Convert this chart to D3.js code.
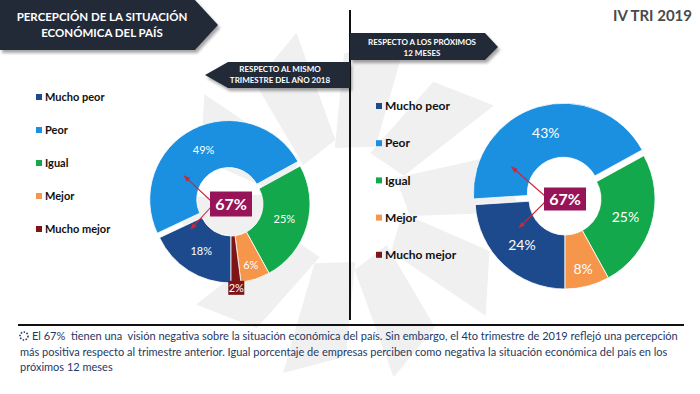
<!DOCTYPE html>
<html>
<head>
<meta charset="utf-8">
<script src="https://cdn.jsdelivr.net/npm/d3@7"></script>
<style>
body { margin: 0; background: #fff; }
svg { display: block; font-family: Lato, "Open Sans", sans-serif; }
</style>
</head>
<body>
<script>
// datos
var categories = ["Mucho peor", "Peor", "Igual", "Mejor", "Mucho mejor"];
var valuesAnio = [18, 49, 25, 6, 2];   // respecto al mismo trimestre 2018
var valuesProx = [24, 43, 25, 8, 0];   // respecto a los proximos 12 meses
var negativeAnio = 67;
var negativeProx = 67;
var colors = ["#1d4a8c", "#1b8fe0", "#12a84b", "#f5964a", "#7f1417"];

var titleLines = ["PERCEPCIÓN DE LA SITUACIÓN", "ECONÓMICA DEL PAÍS"];
var subAnio = ["RESPECTO AL MISMO", "TRIMESTRE DEL AÑO 2018"];
var subProx = ["RESPECTO A LOS PRÓXIMOS", "12 MESES"];
var period = "IV TRI 2019";
var noteLines = [
    "El 67%  tienen una  visión negativa sobre la situación económica del país. Sin embargo, el 4to trimestre de 2019 reflejó una percepción",
    "más positiva respecto al trimestre anterior. Igual porcentaje de empresas perciben como negativa la situación económica del país en los",
    "próximos 12 meses"
];

var width = 700, height = 394;

var svg = d3.select("body").append("svg")
    .attr("width", width)
    .attr("height", height);

var defs = svg.append("defs");
defs.append("filter").attr("id", "shadow")
    .attr("x", -0.1).attr("y", -0.2).attr("width", 1.2).attr("height", 1.6)
  .append("feDropShadow")
    .attr("dx", 2).attr("dy", 3).attr("stdDeviation", 1.5)
    .attr("flood-color", "#000").attr("flood-opacity", 0.35);
defs.append("marker").attr("id", "arrow")
    .attr("viewBox", "0 0 10 10").attr("refX", 9).attr("refY", 5)
    .attr("markerWidth", 6).attr("markerHeight", 6).attr("orient", "auto")
  .append("path").attr("d", "M0,1L10,5L0,9z").attr("fill", "#c8283a");

// marca de agua (logo tenue)
var wm = svg.append("g").attr("transform", "translate(345,205)");
d3.range(10).forEach(function(i) {
    wm.append("path")
        .attr("d", "M-18,-55L22,-62L38,-175L-22,-150Z")
        .attr("transform", "rotate(" + (i * 36 + 8) + ")")
        .attr("fill", "#f0f0f0");
});

// lineas divisorias
svg.append("line").attr("x1", 350).attr("x2", 350).attr("y1", 10).attr("y2", 320)
    .attr("stroke", "#111").attr("stroke-width", 2);
svg.append("line").attr("x1", 18).attr("x2", 684).attr("y1", 325).attr("y2", 325)
    .attr("stroke", "#111").attr("stroke-width", 2);

// banners
function banner(points, lines, cx, y0, dy, size) {
    var g = svg.append("g");
    g.append("polygon")
        .attr("points", points.map(function(p) { return p.join(","); }).join(" "))
        .attr("fill", "#242b37")
        .attr("filter", "url(#shadow)");
    lines.forEach(function(t, i) {
        g.append("text")
            .attr("x", cx).attr("y", y0 + i * dy)
            .attr("text-anchor", "middle")
            .attr("fill", "#fff")
            .attr("font-weight", "bold")
            .attr("font-size", size)
            .text(t);
    });
}
banner([[0, 0], [195, 0], [218, 25], [195, 50], [0, 50]], titleLines, 102, 21, 16, 11.5);
banner([[228, 62], [350, 62], [350, 88], [228, 88], [205, 75]], subAnio, 280, 72, 11, 8);
banner([[350, 33], [485, 33], [498, 47], [485, 60], [350, 60]], subProx, 422, 45, 11, 8);

svg.append("text")
    .attr("x", 692).attr("y", 21)
    .attr("text-anchor", "end")
    .attr("font-weight", "bold")
    .attr("font-size", 15)
    .attr("fill", "#4a4a4a")
    .text(period);

// leyendas
function legend(x, y0, step, size, box) {
    var g = svg.append("g").attr("transform", "translate(" + x + "," + y0 + ")");
    categories.forEach(function(c, i) {
        var row = g.append("g").attr("transform", "translate(0," + (i * step) + ")");
        row.append("rect")
            .attr("x", 0).attr("y", -box / 2).attr("width", box).attr("height", box)
            .attr("fill", colors[i]);
        row.append("text")
            .attr("x", box + 3).attr("y", 0).attr("dy", "0.35em")
            .attr("font-weight", "bold").attr("font-size", size)
            .attr("fill", "#111")
            .text(c);
    });
}
legend(36, 97, 33, 11, 6);
legend(376, 106, 37.2, 12, 6);

// donas
function donut(cx, cy, rIn, rOut, values, explode, negative, opts) {
    var g = svg.append("g").attr("transform", "translate(" + cx + "," + cy + ")");
    var pie = d3.pie().sort(null).value(function(d) { return d; })
        .startAngle(Math.PI).endAngle(3 * Math.PI);
    var arc = d3.arc().innerRadius(rIn).outerRadius(rOut);
    var arcs = pie(values).map(function(d, i) { d.index = i; return d; })
        .filter(function(d) { return d.value > 0; });

    function shift(d) {
        if (d.index !== 1) return [0, 0];
        return d3.pointRadial((d.startAngle + d.endAngle) / 2, explode);
    }

    g.selectAll("path.slice").data(arcs).enter().append("path")
        .attr("class", "slice")
        .attr("d", arc)
        .attr("transform", function(d) { return "translate(" + shift(d) + ")"; })
        .attr("fill", function(d) { return colors[d.index]; })
        .attr("stroke", "#fff").attr("stroke-width", 0.8);

    arcs.forEach(function(d) {
        var mid = (d.startAngle + d.endAngle) / 2;
        var s = shift(d);
        if (d.value < 3) {
            var p = d3.pointRadial(mid, rOut + 5);
            g.append("rect")
                .attr("x", p[0] - 8).attr("y", p[1] - 7).attr("width", 16).attr("height", 14)
                .attr("fill", colors[d.index]);
            g.append("text")
                .attr("x", p[0]).attr("y", p[1]).attr("dy", "0.36em")
                .attr("text-anchor", "middle").attr("fill", "#fff")
                .attr("font-size", opts.label).text(d.value + "%");
            return;
        }
        var r = d.value < 10 ? rIn + 0.68 * (rOut - rIn) : (rIn + rOut) / 2;
        var p = d3.pointRadial(mid, r);
        g.append("text")
            .attr("x", p[0] + s[0]).attr("y", p[1] + s[1]).attr("dy", "0.36em")
            .attr("text-anchor", "middle").attr("fill", "#fff")
            .attr("font-size", opts.label)
            .text(d.value + "%");
    });

    // flechas hacia Mucho peor y Peor
    [[301, 0.69, -3], [238, 0.6, 3]].forEach(function(a) {
        var t = d3.pointRadial(a[0] * Math.PI / 180, rOut * a[1]);
        g.append("line")
            .attr("x1", -20).attr("y1", a[2])
            .attr("x2", t[0]).attr("y2", t[1])
            .attr("stroke", "#c8283a").attr("stroke-width", 1.1)
            .attr("marker-end", "url(#arrow)");
    });

    g.append("rect")
        .attr("x", -21).attr("y", -opts.box / 2).attr("width", 42).attr("height", opts.box)
        .attr("fill", "#981458");
    g.append("text")
        .attr("x", 0).attr("y", 0).attr("dy", "0.36em")
        .attr("text-anchor", "middle").attr("fill", "#fff")
        .attr("font-weight", "bold").attr("font-size", 16)
        .text(negative + "%");
}
donut(231, 204, 32, 79, valuesAnio, 5, negativeAnio, {label: 11, box: 25});
donut(565, 199, 36, 90, valuesProx, 6, negativeProx, {label: 14, box: 23});

// nota inferior
var note = svg.append("g").attr("fill", "#1f3864").attr("font-size", 11);
note.append("circle").attr("cx", 24).attr("cy", 336).attr("r", 4)
    .attr("fill", "none").attr("stroke", "#1f3864").attr("stroke-width", 1.6)
    .attr("stroke-dasharray", "1.5,1.5");
noteLines.forEach(function(t, i) {
    note.append("text")
        .attr("x", i === 0 ? 32 : 20)
        .attr("y", 340 + i * 15.5)
        .attr("xml:space", "preserve")
        .style("white-space", "pre")
        .text(t);
});
</script>
</body>
</html>
